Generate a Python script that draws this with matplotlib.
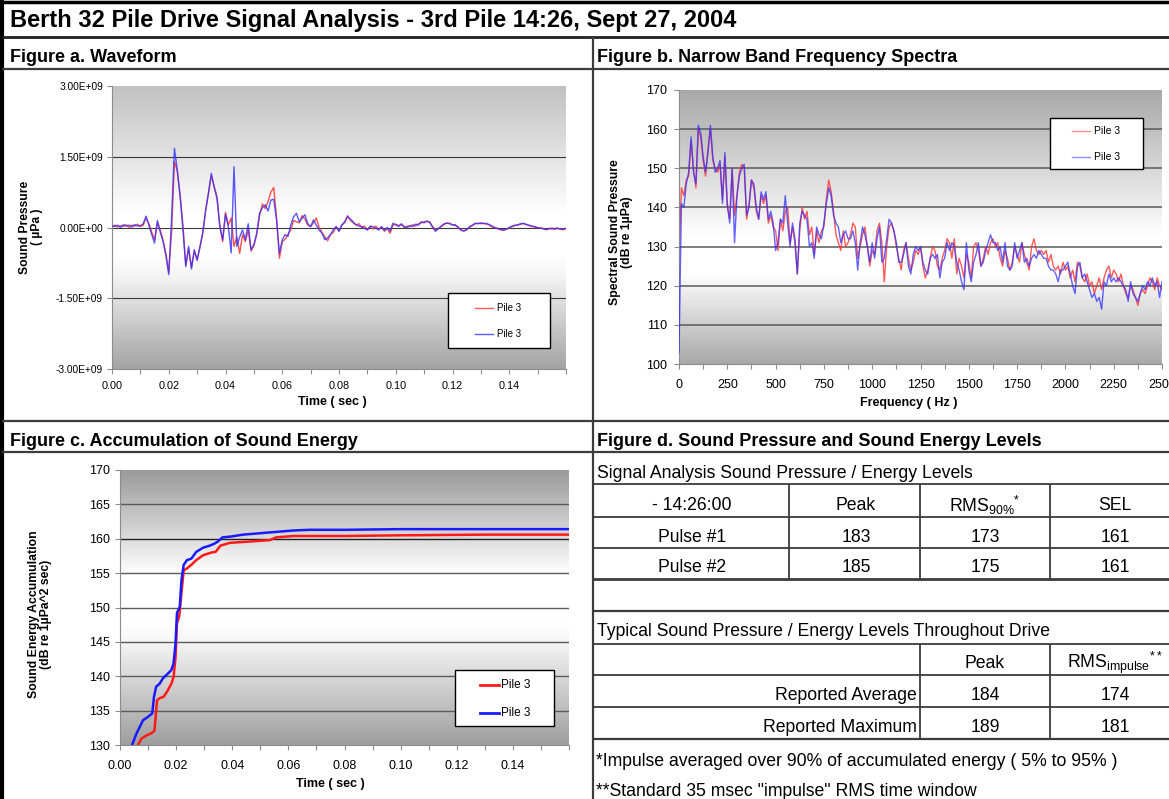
import numpy as np
import matplotlib
matplotlib.use('Agg')
import matplotlib.pyplot as plt
from matplotlib.patches import Rectangle
from matplotlib.ticker import FixedLocator, MultipleLocator, FuncFormatter

plt.rcParams['font.family'] = ['Liberation Sans', 'DejaVu Sans']
plt.rcParams['mathtext.fontset'] = 'custom'
plt.rcParams['mathtext.rm'] = 'Liberation Sans'
plt.rcParams['mathtext.it'] = 'Liberation Sans:italic'
plt.rcParams['mathtext.bf'] = 'Liberation Sans:bold'

W, H = 1169, 799

# ---------------- data ----------------
series_names = ['Pile 3', 'Pile 3']

# figure a: waveform, 1 ms steps, values in 1e9 uPa
wave_time = np.arange(161) * 0.001
wave_red = [0.02, 0.05, 0.01, 0.04, 0.02, 0.06, 0.00, 0.05, 0.03, 0.07, 0.02, 0.05,
            0.20, 0.08, -0.10, -0.25, 0.10, -0.05, -0.27, -0.55, -0.95,
            -0.10, 1.40, 1.20, 0.70, 0.05, -0.80, -0.45, -0.85, -0.50, -0.68,
            -0.40, -0.10, 0.35, 0.72, 1.10, 0.88, 0.65, 0.05, -0.30, 0.32,
            0.05, 0.20, -0.40, -0.20, -0.55, -0.15, -0.30, -0.05, -0.50, -0.38,
            -0.15, 0.25, 0.50, 0.40, 0.55, 0.75, 0.85, 0.20, -0.65, -0.30,
            -0.25, -0.15, -0.05, 0.15, 0.12, 0.10, 0.25, 0.18, 0.05, 0.02,
            0.10, 0.20, 0.00, -0.10, -0.20, -0.28, -0.15, -0.10, 0.02, -0.08,
            0.05, 0.10, 0.25, 0.15, 0.10, 0.05, 0.08, 0.00, 0.03, -0.05,
            0.02, -0.03, 0.03, -0.04, 0.01, -0.08, -0.02, -0.12, 0.05, 0.07,
            0.04, 0.06, 0.00, 0.03, 0.02, 0.06, 0.03, 0.08, 0.10, 0.12,
            0.14, 0.10, 0.02, -0.06, -0.02, 0.02, 0.06, 0.10, 0.09, 0.06,
            0.04, 0.01, -0.05, -0.08, -0.04, 0.00, 0.04, 0.08, 0.09, 0.08,
            0.09, 0.07, 0.05, 0.01, 0.00, -0.03, -0.05, -0.06, -0.03, -0.01,
            0.02, 0.04, 0.06, 0.07, 0.08, 0.07, 0.04, 0.02, 0.01, 0.00,
            -0.01, -0.02, -0.05, -0.03, -0.01, -0.04, -0.02, -0.03, -0.05, -0.02]
wave_blue = [0.03, 0.02, 0.05, 0.00, 0.06, 0.03, 0.05, 0.01, 0.06, 0.03, 0.04, 0.08,
             0.24, 0.05, -0.15, -0.33, 0.15, -0.10, -0.30, -0.60, -1.00,
             0.20, 1.68, 1.22, 0.66, -0.05, -0.83, -0.40, -0.88, -0.47, -0.70,
             -0.42, -0.12, 0.37, 0.73, 1.15, 0.85, 0.62, 0.02, -0.26, 0.28,
             0.02, -0.54, 1.29, -0.40, -0.20, -0.05, -0.26, 0.08, -0.47, -0.37,
             -0.12, 0.30, 0.42, 0.48, 0.35, 0.58, 0.60, 0.16, -0.55, -0.26,
             -0.15, -0.19, 0.05, 0.23, 0.30, 0.12, 0.20, 0.27, 0.08, 0.02,
             0.16, 0.05, -0.05, -0.12, -0.26, -0.22, -0.15, -0.05, 0.02, -0.08,
             0.06, 0.12, 0.23, 0.18, 0.12, 0.06, 0.03, 0.02, -0.02, -0.05,
             0.03, 0.02, -0.02, -0.05, 0.02, -0.06, 0.00, -0.08, 0.09, 0.06,
             0.02, 0.08, 0.02, 0.00, 0.04, 0.02, 0.07, 0.05, 0.12, 0.10,
             0.13, 0.12, 0.00, -0.08, -0.03, 0.03, 0.08, 0.09, 0.08, 0.05,
             0.06, 0.00, -0.06, -0.07, -0.05, 0.02, 0.05, 0.09, 0.08, 0.10,
             0.08, 0.09, 0.06, 0.03, -0.01, -0.02, -0.04, -0.05, -0.04, 0.00,
             0.03, 0.05, 0.05, 0.08, 0.09, 0.06, 0.05, 0.03, 0.02, -0.01,
             -0.01, -0.03, -0.04, -0.02, -0.03, -0.02, -0.01, -0.04, -0.03, -0.02]

# figure b: narrow band spectra, 12.5 Hz steps, dB re 1uPa
spec_freq = np.arange(201) * 12.5
spec_red = [127, 145, 143, 147, 148, 157, 150, 145, 160, 158,
            152, 148, 155, 160, 152, 150, 149, 151, 142, 153,
            140, 137, 150, 138, 143, 149, 151, 150, 137, 141,
            147, 145, 139, 137, 143, 141, 143, 136, 138, 135,
            134, 129, 137, 134, 139, 140, 131, 135, 131, 123,
            134, 140, 137, 139, 133, 135, 128, 134, 131, 134,
            135, 142, 147, 144, 139, 133, 131, 129, 134, 130,
            131, 133, 136, 135, 127, 130, 133, 135, 130, 125,
            129, 128, 134, 136, 131, 121, 130, 135, 136, 134,
            130, 127, 124, 129, 131, 127, 124, 126, 129, 128,
            130, 125, 122, 124, 127, 130, 129, 125, 124, 127,
            129, 132, 131, 127, 132, 123, 127, 125, 122, 128,
            126, 122, 130, 131, 129, 125, 127, 130, 128, 131,
            132, 130, 131, 127, 125, 129, 127, 124, 126, 130,
            128, 126, 131, 128, 126, 124, 130, 132, 129, 128,
            129, 128, 129, 126, 128, 125, 124, 125, 123, 126,
            124, 125, 122, 124, 121, 126, 125, 122, 121, 123,
            120, 121, 118, 120, 122, 119, 122, 124, 125, 122,
            124, 123, 121, 123, 120, 118, 117, 120, 119, 117,
            115, 118, 119, 118, 120, 122, 121, 119, 122, 120,
            119]
spec_blue = [103, 141, 140, 146, 149, 158, 149, 146, 161, 159,
             153, 149, 154, 161, 153, 149, 150, 152, 141, 154,
             141, 136, 150, 131, 143, 148, 150, 151, 138, 140,
             147, 146, 140, 137, 144, 142, 144, 137, 139, 136,
             129, 131, 137, 136, 143, 136, 130, 136, 132, 123,
             136, 139, 138, 137, 130, 131, 127, 135, 133, 132,
             136, 141, 145, 143, 138, 136, 135, 131, 133, 134,
             132, 132, 134, 131, 124, 131, 135, 133, 130, 126,
             131, 127, 132, 135, 126, 127, 132, 137, 136, 134,
             131, 126, 126, 128, 131, 125, 123, 128, 130, 129,
             130, 126, 124, 123, 127, 128, 127, 128, 122, 126,
             127, 131, 129, 131, 130, 126, 124, 121, 119, 131,
             124, 121, 126, 128, 131, 125, 126, 129, 131, 133,
             131, 131, 129, 130, 126, 131, 125, 124, 125, 131,
             127, 129, 131, 126, 127, 125, 127, 128, 127, 129,
             128, 127, 127, 125, 124, 124, 123, 121, 124, 124,
             125, 126, 123, 120, 118, 125, 126, 122, 123, 121,
             119, 117, 118, 116, 117, 114, 121, 120, 123, 121,
             122, 121, 122, 121, 120, 119, 116, 121, 118, 117,
             116, 118, 120, 119, 121, 120, 122, 120, 121, 117,
             121]

# figure c: accumulated sound energy, dB re 1uPa^2 sec
acc_time_red = [0.004, 0.0064, 0.0076, 0.0094, 0.0112, 0.0123, 0.0132, 0.0141, 0.0155,
                0.0167, 0.0183, 0.0191, 0.0198, 0.0203, 0.0211, 0.0219, 0.0227, 0.0239,
                0.0254, 0.0272, 0.0296, 0.0326, 0.0341, 0.0358, 0.0391, 0.0463, 0.0534,
                0.0557, 0.0617, 0.08, 0.10, 0.13, 0.16]
acc_red = [127.5, 130.0, 130.9, 131.4, 131.7, 132.1, 136.5, 136.8, 137.0,
           137.7, 138.9, 139.9, 142.8, 147.7, 148.7, 152.1, 155.4, 155.7,
           156.2, 156.9, 157.6, 158.0, 158.1, 159.0, 159.4, 159.6, 159.8,
           160.2, 160.4, 160.4, 160.5, 160.6, 160.6]
acc_time_blue = [0.002, 0.0044, 0.0058, 0.0070, 0.0082, 0.0100, 0.0115, 0.0121, 0.0129,
                 0.0141, 0.0153, 0.0171, 0.0183, 0.0191, 0.0198, 0.0203, 0.0213, 0.0219,
                 0.0227, 0.0239, 0.0254, 0.0272, 0.0296, 0.0320, 0.0337, 0.0349, 0.0365,
                 0.0391, 0.0439, 0.0498, 0.0557, 0.0617, 0.0676, 0.08, 0.10, 0.16]
acc_blue = [127.0, 130.1, 131.6, 132.6, 133.6, 134.1, 134.6, 137.0, 138.5,
            138.9, 139.7, 140.4, 140.9, 141.9, 144.8, 149.2, 150.1, 154.0,
            156.2, 156.9, 157.1, 158.1, 158.7, 159.0, 159.3, 159.6, 160.2,
            160.3, 160.6, 160.8, 161.0, 161.2, 161.3, 161.3, 161.4, 161.4]

# figure d: tables
t1_header = ['- 14:26:00', 'Peak', r'RMS$_{\mathregular{90\%}}{}^{\mathregular{*}}$', 'SEL']
t1_rows = [['Pulse #1', '183', '173', '161'],
           ['Pulse #2', '185', '175', '161']]
t2_header = ['Peak', r'RMS$_{\mathregular{impulse}}{}^{\mathregular{**}}$']
t2_rows = [['Reported Average', '184', '174'],
           ['Reported Maximum', '189', '181']]
notes = ['*Impulse averaged over 90% of accumulated energy ( 5% to 95% )',
         '**Standard 35 msec "impulse" RMS time window']

RED = '#ff3030'
BLUE = '#2f2fff'
AXC = '#8c8c8c'

fig = plt.figure(figsize=(W / 100, H / 100), dpi=100)
fig.patch.set_facecolor('white')


def chart(l, t, r, b, stops):
    ax = fig.add_axes([l / W, 1 - b / H, (r - l) / W, (b - t) / H])
    yy = np.linspace(1, 0, 300)
    g = np.interp(yy, [s[0] for s in stops], [s[1] for s in stops])
    img = np.repeat(g[:, None, None], 3, axis=2)
    ax.imshow(img, extent=[0, 1, 0, 1], transform=ax.transAxes, aspect='auto',
              zorder=0, interpolation='bilinear')
    for side in ['top', 'right']:
        ax.spines[side].set_visible(False)
    for side in ['left', 'bottom']:
        ax.spines[side].set_color(AXC)
    ax.tick_params(which='both', direction='out', length=3.5, color=AXC, width=0.8)
    return ax


# ---- figure a ----
ax = chart(112, 86, 566, 369, [(0, 0.64), (0.33, 0.96), (0.40, 1.0), (0.55, 1.0), (1, 0.76)])
for v in (-1.5e9, 0, 1.5e9):
    ax.axhline(v, color='#3a3a3a', lw=0.8, zorder=1)
ax.plot(wave_time, np.array(wave_red) * 1e9, color=RED, lw=1.0, alpha=0.85, zorder=2)
ax.plot(wave_time, np.array(wave_blue) * 1e9, color=BLUE, lw=1.0, alpha=0.8, zorder=3)
ax.set_xlim(0, 0.16)
ax.set_ylim(-3e9, 3e9)
ax.yaxis.set_major_locator(FixedLocator([-3e9, -1.5e9, 0, 1.5e9, 3e9]))
ax.yaxis.set_major_formatter(FuncFormatter(lambda v, p: f'{v:.2E}'))
ax.xaxis.set_major_locator(MultipleLocator(0.02))
ax.xaxis.set_minor_locator(MultipleLocator(0.01))
ax.xaxis.set_major_formatter(FuncFormatter(lambda v, p: '' if v > 0.15 else f'{v:.2f}'))
ax.tick_params(axis='y', labelsize=7.3, pad=3)
ax.tick_params(axis='x', labelsize=7.8, pad=5)

# ---- figure b ----
bx = chart(679, 90, 1162, 364, [(0, 0.66), (0.33, 1.0), (0.47, 1.0), (1, 0.66)])
for v in range(110, 170, 10):
    bx.axhline(v, color='#5a5a5a', lw=1.1, zorder=1)
bx.plot(spec_freq, spec_red, color=RED, lw=1.0, alpha=0.8, zorder=2)
bx.plot(spec_freq, spec_blue, color=BLUE, lw=1.0, alpha=0.75, zorder=3)
bx.set_xlim(0, 2500)
bx.set_ylim(100, 170)
bx.yaxis.set_major_locator(MultipleLocator(10))
bx.xaxis.set_major_locator(MultipleLocator(250))
bx.xaxis.set_minor_locator(MultipleLocator(125))
bx.tick_params(axis='y', labelsize=9, pad=5)
bx.tick_params(axis='x', labelsize=9, pad=7)

# ---- figure c ----
cx = chart(120, 470, 569, 745, [(0, 0.62), (0.38, 0.97), (0.45, 1.0), (0.62, 1.0), (1, 0.60)])
for v in range(135, 170, 5):
    cx.axhline(v, color='#202020' if v == 160 else '#5a5a5a', lw=1.0, zorder=1)
cx.plot(acc_time_red, acc_red, color='#ff1a1a', lw=1.8, zorder=2)
cx.plot(acc_time_blue, acc_blue, color='#1a1aff', lw=1.8, zorder=3)
cx.set_xlim(0, 0.16)
cx.set_ylim(130, 170)
cx.yaxis.set_major_locator(MultipleLocator(5))
cx.xaxis.set_major_locator(MultipleLocator(0.02))
cx.xaxis.set_minor_locator(MultipleLocator(0.01))
cx.xaxis.set_major_formatter(FuncFormatter(lambda v, p: '' if v > 0.15 else f'{v:.2f}'))
cx.tick_params(axis='y', labelsize=9, pad=4)
cx.tick_params(axis='x', labelsize=9, pad=7)

# ---------------- page overlay (pixel coordinates) ----------------
page = fig.add_axes([0, 0, 1, 1], zorder=10)
page.set_xlim(0, W)
page.set_ylim(H, 0)
page.axis('off')
page.patch.set_alpha(0)

LC = '#3c3c3c'


def hline(y, x0=2, x1=W, lw=1.3, c=LC):
    page.plot([x0, x1], [y, y], color=c, lw=lw, solid_capstyle='butt')


def vline(x, y0, y1, lw=1.3, c=LC):
    page.plot([x, x], [y0, y1], color=c, lw=lw, solid_capstyle='butt')


hline(1.5, 0, W, lw=2.5, c='black')
vline(2, 0, H, lw=3, c='black')
hline(37, lw=2.0, c='#222222')
hline(69, lw=1.6)
hline(421, lw=1.6)
hline(452, lw=1.6)
vline(593, 37, H, lw=1.6)

page.text(10, 20, 'Berth 32 Pile Drive Signal Analysis - 3rd Pile 14:26, Sept 27, 2004',
          fontsize=17, fontweight='bold', va='center')
page.text(10, 58, 'Figure a. Waveform', fontsize=13, fontweight='bold', va='center')
page.text(597, 58, 'Figure b. Narrow Band Frequency Spectra', fontsize=13, fontweight='bold', va='center')
page.text(10, 441, 'Figure c. Accumulation of Sound Energy', fontsize=13, fontweight='bold', va='center')
page.text(597, 441, 'Figure d. Sound Pressure and Sound Energy Levels', fontsize=13,
          fontweight='bold', va='center')

# axis titles
page.text(31, 227, 'Sound Pressure\n( µPa )', rotation=90, fontsize=8.7, fontweight='bold',
          ha='center', va='center', linespacing=1.05)
page.text(332, 402, 'Time ( sec )', fontsize=9, fontweight='bold', ha='center', va='center')
page.text(621, 232, 'Spectral Sound Pressure\n(dB re 1µPa)', rotation=90, fontsize=8.8,
          fontweight='bold', ha='center', va='center', linespacing=1.05)
page.text(909, 403, 'Frequency ( Hz )', fontsize=9, fontweight='bold', ha='center', va='center')
page.text(40, 614, 'Sound Energy Accumulation\n(dB re 1µPa^2 sec)', rotation=90, fontsize=8.8,
          fontweight='bold', ha='center', va='center', linespacing=1.1)
page.text(330, 784, 'Time ( sec )', fontsize=9, fontweight='bold', ha='center', va='center')


def box_legend(box, rows_y, seg, text_x, colors, lw, fs, alpha):
    l, t, r, b = box
    page.add_patch(Rectangle((l, t), r - l, b - t, facecolor='white', edgecolor='black', lw=1.0))
    for y, c, name in zip(rows_y, colors, series_names):
        page.plot(seg, [y, y], color=c, lw=lw, alpha=alpha)
        page.text(text_x, y, name, fontsize=fs, va='center')


box_legend((448, 293, 550, 348), (307.7, 334.3), (475, 493), 497, (RED, BLUE), 1.0, 7, 0.8)
box_legend((1050, 118, 1143, 169), (130.7, 156.7), (1072, 1090), 1094, (RED, BLUE), 1.0, 7.5, 0.55)
box_legend((455, 670, 554, 726), (685, 712.7), (480, 499), 501, ('#ff1a1a', '#1a1aff'), 2.0, 8.5, 1.0)

# ---- figure d tables ----
TF = 12.7
col_x = [692, 856, 985, 1115]
page.text(597, 473, 'Signal Analysis Sound Pressure / Energy Levels', fontsize=TF, va='center')
hline(484, 593)
for x, s in zip(col_x, t1_header):
    page.text(x, 505, s, fontsize=TF, ha='center', va='center')
hline(516.7, 593)
for y, row in zip((537, 568), t1_rows):
    for x, s in zip(col_x, row):
        page.text(x, y, s, fontsize=TF, ha='center', va='center')
hline(547.7, 593)
hline(579, 593, lw=2.0)
for x in (789, 920, 1050):
    vline(x, 484, 579)
hline(611, 593, lw=1.6)

page.text(597, 632, 'Typical Sound Pressure / Energy Levels Throughout Drive', fontsize=TF, va='center')
hline(643.5, 593)
for x, s in zip(col_x[2:], t2_header):
    page.text(x, 663, s, fontsize=TF, ha='center', va='center')
hline(675, 593)
for y, row in zip((696, 728), t2_rows):
    page.text(917, y, row[0], fontsize=TF, ha='right', va='center')
    for x, s in zip(col_x[2:], row[1:]):
        page.text(x, y, s, fontsize=TF, ha='center', va='center')
hline(707, 593)
hline(739, 593, lw=1.6)
for x in (920, 1050):
    vline(x, 643.5, 739)
page.text(596, 761, notes[0], fontsize=TF, va='center')
page.text(596, 791, notes[1], fontsize=TF, va='center')

fig.savefig('out.png', dpi=100)
